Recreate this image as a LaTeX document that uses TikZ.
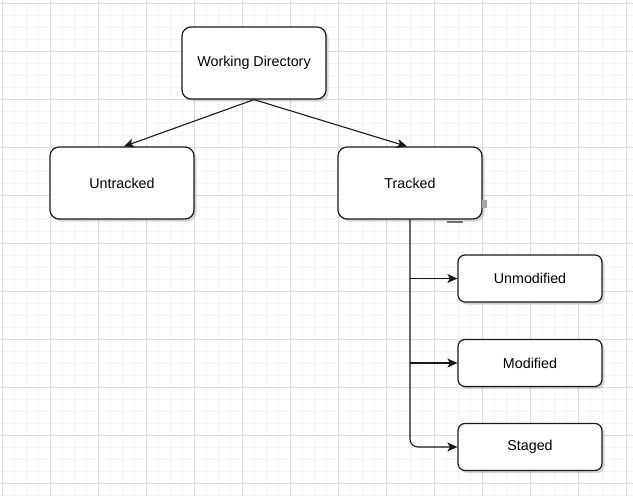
\documentclass[tikz,border=0pt]{standalone}
\usepackage{fontspec}
\setmainfont{Liberation Sans}
\usetikzlibrary{arrows.meta,shadows}
\definecolor{minorgrid}{HTML}{F4F4F4}
\definecolor{majorgrid}{HTML}{DDDDDD}
\definecolor{boxline}{HTML}{1A1A1A}
\tikzset{
  box/.style={draw=boxline, line width=1.2pt, fill=white, rounded corners=9pt,
    minimum width=144pt, minimum height=72pt, inner sep=0pt, font=\fontsize{14.3}{16}\selectfont,
    drop shadow={opacity=0.25, shadow xshift=2.5pt, shadow yshift=-2.5pt, fill=black!60}},
  smallbox/.style={box, rounded corners=7pt, minimum height=47pt},
  conn/.style={draw=boxline, line width=1.1pt, -{Stealth[length=10pt,width=9pt,inset=2.5pt]}},
}
\begin{document}
\begin{tikzpicture}[x=1pt,y=-1pt]
\useasboundingbox (0,0) rectangle (633,496);
\fill[white] (0,0) rectangle (633,496);
\foreach \x in {2,14,...,633} \draw[minorgrid, line width=0.8pt] (\x,0) -- (\x,496);
\foreach \y in {3,15,...,496} \draw[minorgrid, line width=0.8pt] (0,\y) -- (633,\y);
\foreach \x in {2,50,...,633} \draw[majorgrid, line width=0.8pt] (\x,0) -- (\x,496);
\foreach \y in {3,51,...,496} \draw[majorgrid, line width=0.8pt] (0,\y) -- (633,\y);

\node[box] (wd) at (254,63) {Working Directory};
\node[box] (ut) at (122,183) {Untracked};
\node[box] (tr) at (410,183) {Tracked};
\node[smallbox] (um) at (530,278.5) {Unmodified};
\node[smallbox] (md) at (530,363) {Modified};
\node[smallbox] (st) at (530,447) {Staged};

\fill[black!35] (482,200) rectangle (486.5,207.5);
\fill[black!55] (447,221) rectangle (463,222.5);

\draw[conn] (wd.south) -- ([xshift=2pt]ut.north);
\draw[conn] (wd.south) -- ([xshift=-3pt]tr.north);
\draw[conn, rounded corners=8pt] (tr.south) |- (st.west);
\draw[conn] (tr.south |- um.west) -- (um.west);
\draw[conn] (tr.south |- md.west) -- (md.west);
\end{tikzpicture}
\end{document}
